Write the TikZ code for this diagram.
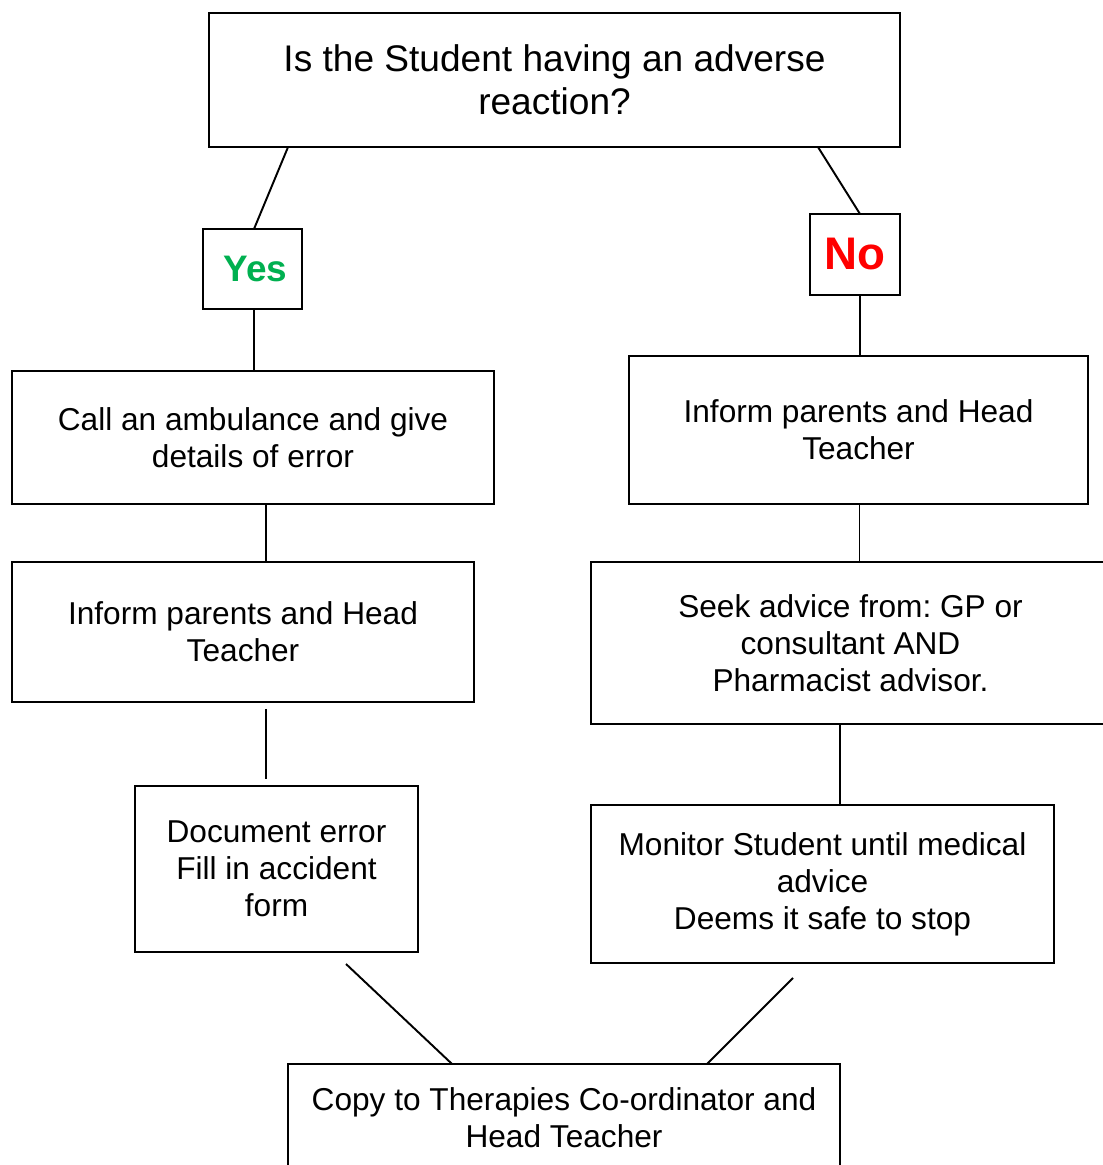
\documentclass[tikz,border=0pt]{standalone}
\usepackage{fontspec}
\setmainfont{Liberation Sans}
\usetikzlibrary{calc}
\definecolor{yesgreen}{RGB}{0,176,80}
\definecolor{nored}{RGB}{255,0,0}
\frenchspacing

\begin{document}
\begin{tikzpicture}[x=0.02cm,y=-0.02cm,
    rxbox/.style={draw=black,fill=white,line width=1.1pt,align=center,
        inner sep=0pt,outer sep=0pt,font=\fontsize{18}{21}\selectfont},
    rxanswer/.style={draw=black,fill=white,line width=1.1pt,inner sep=0pt,
        outer sep=0pt,font=\bfseries},
    rxline/.style={draw=black,line width=1.1pt}
]
\useasboundingbox (0,0) rectangle (1102,1165);
\node[rxbox,minimum width=13.82cm,minimum height=2.68cm,
    font=\fontsize{21.1}{24.4}\selectfont] (question) at (554.5,80)
    {Is the Student having an adverse\\reaction?};
\node[rxanswer,minimum width=1.98cm,minimum height=1.6cm,
    text=yesgreen,font=\bfseries\fontsize{21}{24}\selectfont] (yes) at (252.5,269) {\,Yes};
\node[rxanswer,minimum width=1.8cm,minimum height=1.62cm,
    text=nored,font=\bfseries\fontsize{26}{30}\selectfont] (no) at (855,254.5) {No};
\node[rxbox,minimum width=9.64cm,minimum height=2.66cm] (ambulance) at (253,437.5)
    {Call an ambulance and give\\details of error};
\node[rxbox,minimum width=9.18cm,minimum height=2.96cm] (informno) at (858.5,430)
    {Inform parents and Head\\Teacher};
\node[rxbox,minimum width=9.24cm,minimum height=2.8cm] (informyes) at (243,632)
    {Inform parents and Head\\Teacher};
\node[rxbox,minimum width=10.38cm,minimum height=3.24cm] (advice) at (850.5,643)
    {Seek advice from: GP or\\consultant AND\\Pharmacist advisor.};
\node[rxbox,minimum width=5.66cm,minimum height=3.32cm] (document) at (276.5,869)
    {Document error\\Fill in accident\\form};
\node[rxbox,minimum width=9.26cm,minimum height=3.16cm] (monitor) at (822.5,884)
    {Monitor Student until medical\\advice\\Deems it safe to stop};
\node[rxbox,minimum width=11.04cm,minimum height=2.16cm] (copy) at (564,1118)
    {Copy to Therapies Co-ordinator and\\Head Teacher};
% connectors
\draw[rxline] ($(question.south west)+(79,0)$)--($(yes.north)+(1.5,0)$);
\draw[rxline] ($(question.south east)+(-82,0)$)--($(no.north)+(5,0)$);
\draw[rxline] ($(yes.south)+(1.5,0)$) coordinate (y1)--(y1 |- ambulance.north);
\draw[rxline] ($(no.south)+(5,0)$) coordinate (n1)--(n1 |- informno.north);
\draw[rxline] ($(ambulance.south)+(13,0)$) coordinate (a1)--(a1 |- informyes.north);
\draw[rxline] ($(informno.south)+(1,0)$) coordinate (i1)--(i1 |- advice.north);
\draw[rxline] ($(informyes.south)+(23,7)$) coordinate (i2)
    --($(i2 |- document.north)+(0,-7)$);
\draw[rxline] ($(advice.south)+(-10.5,0)$) coordinate (s1)--(s1 |- monitor.north);
\draw[rxline] ($(document.south)+(69.5,12)$)--($(copy.north west)+(164,0)$);
\draw[rxline] ($(monitor.south)+(-29.5,15)$)--($(copy.north east)+(-133,0)$);
\end{tikzpicture}
\end{document}
